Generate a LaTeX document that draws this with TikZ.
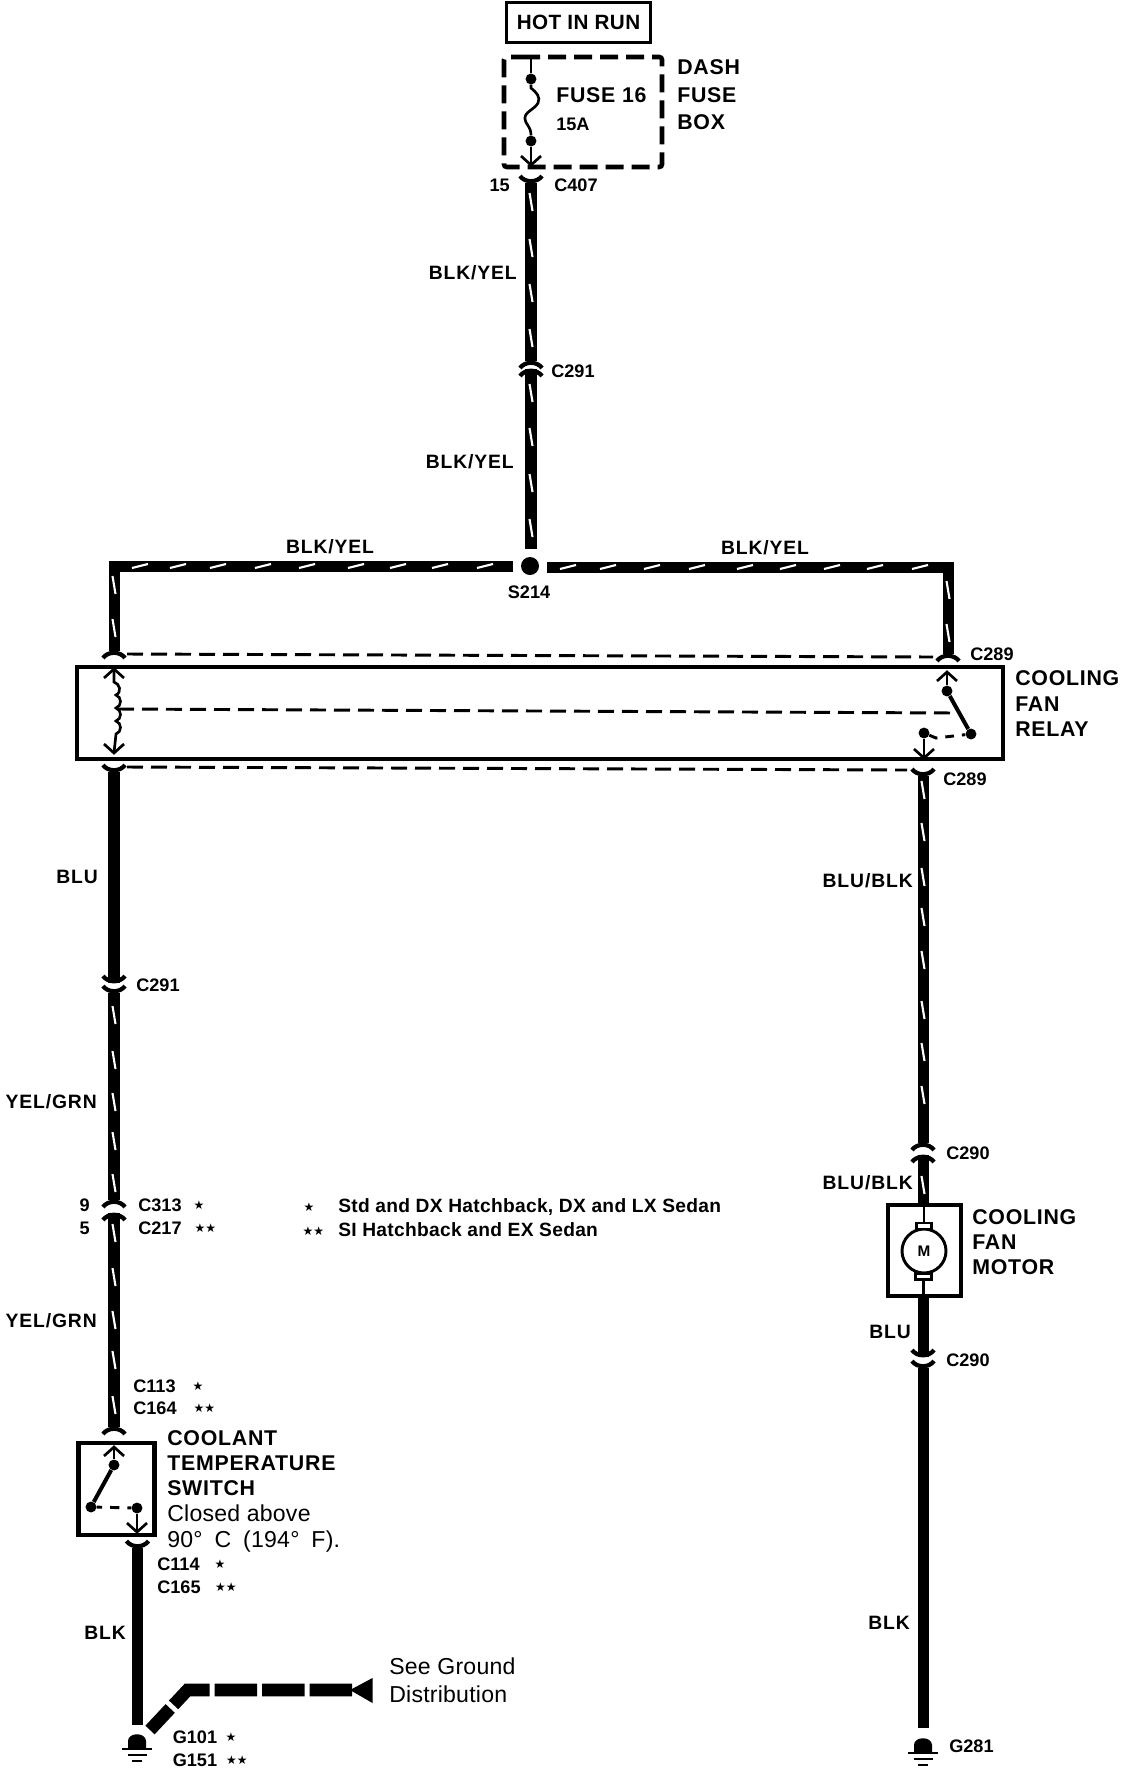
\documentclass[tikz,border=0pt]{standalone}
\usepackage{fontspec}
\setmainfont{Liberation Sans}
\newfontfamily\starfont{DejaVu Sans}
\tikzset{
  wire/.style={line width=9pt},
  wirethin/.style={line width=8.25pt},
  stripe/.style={white,line width=1.6pt},
  ctrl/.style={line width=2.2pt,dash pattern=on 12pt off 6pt},
  thinline/.style={line width=2pt},
  boxline/.style={draw,line width=3.2pt,inner sep=0pt},
  plug/.style={line width=3.2pt},
  dot/.style={circle,fill=black,inner sep=0pt,minimum size=8.2pt},
  lbl/.style={anchor=west,inner sep=0pt,text depth=0pt},
  big/.style={lbl,text height={.72em+5pt},font=\fontsize{16}{18}\selectfont\bfseries\addfontfeature{LetterSpace=3.5}},
  wirelbl/.style={lbl,text height={.72em+3pt},font=\fontsize{14.5}{16}\selectfont\bfseries\addfontfeature{LetterSpace=4.5}},
  conn/.style={lbl,text height={.72em+3pt},font=\fontsize{13.6}{15}\selectfont\bfseries},
  note/.style={lbl,text height={.72em+1.5pt},font=\fontsize{14.4}{16}\selectfont\bfseries\addfontfeature{LetterSpace=1.5}},
  plain/.style={lbl,text height={.72em+5pt},font=\fontsize{17.3}{19}\selectfont\addfontfeature{LetterSpace=1}},
  stars/.style={inner sep=0pt,font=\starfont\fontsize{9}{10}\selectfont},
  capup/.pic={\draw[plug] (-11,7) .. controls (-6,0) and (6,0) .. (11,7);},
  capdown/.pic={\draw[plug] (-11,-7) .. controls (-6,0) and (6,0) .. (11,-7);},
  barbup/.pic={\draw[thinline] (-10,9) -- (0,0) -- (10,9);},
  barbdown/.pic={\draw[thinline] (-10,-9) -- (0,0) -- (10,-9);},
  groundsym/.pic={
    \fill (-9,0) -- (-9,-8) .. controls (-9,-17) and (9,-17) .. (9,-8) -- (9,0) -- cycle;
    \draw[thinline] (-15,0) -- (15,0);
    \draw[thinline] (-9.5,6) -- (9.5,6);
    \draw[thinline] (-5,12) -- (5,12);},
}
\begin{document}
\begin{tikzpicture}[x=0.75pt,y=0.75pt,yscale=-1,xscale=1]
  \useasboundingbox (0,0) rectangle (1136,1768);

  % Boxes
  \draw (578.5,22.5) node (hotinrun) [draw,line width=2.6pt,inner sep=0pt,minimum width=108pt,minimum height=30pt,font=\fontsize{15.5}{18}\selectfont\bfseries\addfontfeature{LetterSpace=2}] {HOT IN RUN};
  \draw (583,112) node (fusebox) [inner sep=0pt,outer sep=0pt,minimum width=118.5pt,minimum height=82.5pt] {};
  \draw[line width=3.4pt,rounded corners=2pt,dash pattern=on 13.5pt off 6pt] (522,57) -- (fusebox.north east) -- (fusebox.south east) -- (fusebox.south west) -- (fusebox.north west) -- (522,57);
  \draw (540,713) node (relay) [boxline,minimum width=694pt,minimum height=69pt] {};
  \draw (924.5,1250.5) node (motorbox) [boxline,minimum width=54.5pt,minimum height=68pt] {};
  \draw (116.5,1489) node (tempswitch) [boxline,minimum width=57pt,minimum height=69pt] {};

  % Wire ends
  \coordinate (c407) at (531,183);
  \coordinate (c291u) at (531,361);
  \coordinate (c291d) at (531,369);
  \coordinate (s214t) at (531,549);
  \coordinate (s214l) at (513,566);
  \coordinate (s214r) at (547,567);
  \coordinate (c289a) at (114,651);
  \coordinate (c289b) at (948,654);
  \coordinate (c289c) at (114,772);
  \coordinate (c289d) at (923,776);
  \coordinate (c201u) at (114,983);
  \coordinate (c201d) at (114,993);
  \coordinate (c313) at (114,1200);
  \coordinate (c217) at (114,1213);
  \coordinate (c113) at (114,1427);
  \coordinate (c114) at (137.5,1548);
  \coordinate (g101) at (137.5,1725);
  \coordinate (c290a) at (923,1143);
  \coordinate (c290b) at (923,1155);
  \coordinate (c290c) at (923,1357);
  \coordinate (c290d) at (923,1368);
  \coordinate (g281) at (923,1728);

  % Splice
  \draw (530,566) node (s214) [circle,fill=black,inner sep=0pt,minimum size=13.5pt] {};

  % Wires
  \draw[wire] (c407) -- (c291u);
  \draw[wire] (c291d) -- (s214t);
  \draw[wirethin] (s214l) -| (c289a);
  \draw[wirethin] (s214r) -| (c289b);
  \draw[wire] (c289c) -- (c201u);
  \draw[wire] (c201d) -- (c313);
  \draw[wire] (c217) -- (c113);
  \draw[wirethin] (c114) -- (g101);
  \draw[wirethin] (c289d) -- (c290a);
  \draw[wirethin] (c290b) -- (motorbox.north -| c290b);
  \draw[wirethin] (motorbox.south -| c290c) -- (c290c);
  \draw[wirethin] (c290d) -- (g281);

  % Connector ends
  \foreach \c in {c291u,c291d,c289a,c289b,c313,c217,c113,c290a,c290b}
    \draw (\c) pic[transform shape] {capup};
  \foreach \c in {c407,c289c,c289d,c201u,c201d,c114,c290c,c290d}
    \draw (\c) pic[transform shape] {capdown};

  % Tracer marks
  \foreach \y in {202,248,293,338,393,437,483,528}
    \draw[stripe] (529.5,\y-9) -- (532.5,\y+9);
  \foreach \y in {585,628}
    \draw[stripe] (112.5,\y-9) -- (115.5,\y+9);
  \foreach \y in {590,633}
    \draw[stripe] (946.5,\y-9) -- (949.5,\y+9);
  \foreach \y in {1015,1060,1102,1141,1183,1233,1277,1320,1360,1405}
    \draw[stripe] (112.5,\y-9) -- (115.5,\y+9);
  \foreach \y in {790,832,877,917,960,1010,1052,1095,1185}
    \draw[stripe] (921.5,\y-9) -- (924.5,\y+9);
  \foreach \x in {140,178,218,263,307,356,398,440,485}
    \draw[stripe] (\x-8,568) -- (\x+8,564);
  \foreach \x in {568,608,652,697,745,788,832,875,920}
    \draw[stripe] (\x-8,569) -- (\x+8,565);

  % Fuse
  \coordinate (fusetop) at (531,57);
  \coordinate (fusetip) at (531,165);
  \draw (531,79) node (fusea) [dot] {};
  \draw (531,141) node (fuseb) [dot] {};
  \draw[thinline] (fusetop) -- (fusea);
  \draw[thinline] (fusea) -- (531,88) .. controls (536,92) and (541,97) .. (538,103) .. controls (534,110) and (524,112) .. (525,119) .. controls (525,124) and (531,126) .. (fuseb);
  \draw[thinline] (fuseb) -- (fusetip);
  \draw (fusetip) pic[transform shape] {barbdown};

  % Dashed control lines
  \draw[ctrl] (127,654) -- (933,657);
  \draw[ctrl] (127,767) -- (907,770);
  \draw[ctrl] (118,709) -- (957,713);

  % Relay coil
  \coordinate (coilt) at (114,669);
  \coordinate (coilb) at (114,753);
  \draw (coilt) pic[transform shape] {barbup};
  \draw (coilb) pic[transform shape] {barbdown};
  \draw[thinline] (coilt) -- (114,682) .. controls (120,684) and (122,692) .. (116,695)
    .. controls (122,697) and (122,706) .. (116,708) .. controls (122,710) and (122,719) .. (116,721)
    .. controls (122,723) and (122,732) .. (116,734) -- (coilb);

  % Relay switch
  \coordinate (relayt) at (947,672);
  \coordinate (relayb) at (924,758);
  \draw (947,691) node (relaya) [dot] {};
  \draw (971,734) node (relayc) [dot] {};
  \draw (924,733) node (relayd) [dot] {};
  \draw (relayt) pic[transform shape] {barbup};
  \draw (relayb) pic[transform shape] {barbdown};
  \draw[thinline] (relayt) -- (relaya);
  \draw[line width=3pt] (relaya) -- (relayc);
  \draw[thinline] (relayd) -- (relayb);
  \draw[ctrl,dash pattern=on 6.5pt off 6pt] (relayd) -- (936,738) -- (relayc);

  % Temperature switch
  \coordinate (swt) at (114,1447);
  \coordinate (swb) at (137,1532);
  \draw (114,1465) node (swa) [dot] {};
  \draw (91,1507) node (swc) [dot] {};
  \draw (137,1508) node (swd) [dot] {};
  \draw (swt) pic[transform shape] {barbup};
  \draw (swb) pic[transform shape] {barbdown};
  \draw[thinline] (swt) -- (swa);
  \draw[line width=3pt] (swa) -- (swc);
  \draw[thinline] (swd) -- (swb);
  \draw[ctrl,dash pattern=on 7pt off 6pt,dash phase=3pt] (swc) -- (swd);

  % Motor
  \draw[line width=2.2pt] (924,1251) circle (22);
  \draw (924,1226) node (brusht) [draw,fill=white,line width=2.2pt,inner sep=0pt,minimum width=11pt,minimum height=4.5pt] {};
  \draw (923.5,1276.5) node (brushb) [draw,fill=white,line width=2.2pt,inner sep=0pt,minimum width=12.5pt,minimum height=5pt] {};
  \draw (924,1251) node (motor) [inner sep=0pt,font=\fontsize{11.5}{12}\selectfont\bfseries] {M};
  \draw[thinline] (motorbox.north -| brusht) -- (brusht);
  \draw[thinline] (brushb) -- (motorbox.south -| brushb);

  % Grounds
  \coordinate (gndl) at (137,1749);
  \coordinate (gndr) at (923,1753);
  \draw (gndl) pic[transform shape] {groundsym};
  \draw (gndr) pic[transform shape] {groundsym};

  % Ground reference
  \coordinate (gdiaga) at (150,1730);
  \coordinate (gdiagb) at (187.5,1690);
  \coordinate (gdiagc) at (353,1690);
  \draw[line width=9.5pt,dash pattern=on 31.9pt off 3.7pt,dash phase=9.75pt] (gdiaga) -- (gdiagb) -- (gdiagc);
  \fill (350,1690) -- (372.5,1678) -- (372.5,1703) -- cycle;

  % Text Node
  \draw (677,66) node (dash) [big] {DASH};
  \draw (677,94) node (fuse) [big] {FUSE};
  \draw (677,121) node (box) [big] {BOX};
  \draw (556,94) node (fuse16) [big] {FUSE 16};
  \draw (556,124) node (amps) [conn] {15A};
  \draw (510,185) node (pin15) [conn,anchor=east] {15};
  \draw (554,185) node (lc407) [conn] {C407};
  \draw (551,371) node (lc291a) [conn] {C291};
  \draw (517,273) node (wa) [wirelbl,anchor=east] {BLK/YEL};
  \draw (514,462) node (wb) [wirelbl,anchor=east] {BLK/YEL};
  \draw (330,547) node (wc) [wirelbl,anchor=center] {BLK/YEL};
  \draw (765,548) node (wd) [wirelbl,anchor=center] {BLK/YEL};
  \draw (529,592) node (ls214) [conn,anchor=center] {S214};
  \draw (970,654) node (lc289a) [conn] {C289};
  \draw (943,779) node (lc289b) [conn] {C289};
  \draw (1015,677) node (cool) [big] {COOLING};
  \draw (1015,703) node (fan) [big] {FAN};
  \draw (1015,728) node (rel) [big] {RELAY};
  \draw (98,877) node (we) [wirelbl,anchor=east] {BLU};
  \draw (136,985) node (lc291b) [conn] {C291};
  \draw (97,1102) node (wf) [wirelbl,anchor=east] {YEL/GRN};
  \draw (913,881) node (wg) [wirelbl,anchor=east] {BLU/BLK};
  \draw (946,1153) node (lc290a) [conn] {C290};
  \draw (90,1205) node (pin9) [conn,anchor=east] {9};
  \draw (90,1228) node (pin5) [conn,anchor=east] {5};
  \draw (138,1205) node (lc313) [conn] {C313};
  \draw (199,1205) node (sa) [stars] {★};
  \draw (138,1228) node (lc217) [conn] {C217};
  \draw (205.5,1228) node (sb) [stars] {★★};
  \draw (309,1207) node (sc) [stars] {★};
  \draw (313.5,1231) node (sd) [stars] {★★};
  \draw (338,1207) node (notea) [note] {Std and DX Hatchback, DX and LX Sedan};
  \draw (338,1231) node (noteb) [note] {SI Hatchback and EX Sedan};
  \draw (97,1321) node (wh) [wirelbl,anchor=east] {YEL/GRN};
  \draw (133,1386) node (lc113) [conn] {C113};
  \draw (198,1386) node (se) [stars] {★};
  \draw (133,1408) node (lc164) [conn] {C164};
  \draw (204.5,1408) node (sf) [stars] {★★};
  \draw (167,1437) node (coolant) [big] {COOLANT};
  \draw (167,1462) node (temp) [big] {TEMPERATURE};
  \draw (167,1487) node (switch) [big] {SWITCH};
  \draw (167,1513) node (closed) [plain] {Closed above};
  \draw (167,1539) node (degrees) [plain] {90°\hspace{4pt} C\hspace{4pt} (194°\hspace{4pt} F).};
  \draw (157,1564) node (lc114) [conn] {C114};
  \draw (220,1564) node (sg) [stars] {★};
  \draw (157,1587) node (lc165) [conn] {C165};
  \draw (226,1587) node (sh) [stars] {★★};
  \draw (126,1633) node (wi) [wirelbl,anchor=east] {BLK};
  \draw (389,1666) node (seeg) [plain] {See Ground};
  \draw (389,1694) node (dist) [plain] {Distribution};
  \draw (172.5,1737) node (lg101) [conn] {G101};
  \draw (231,1737) node (si) [stars] {★};
  \draw (172.5,1760) node (lg151) [conn] {G151};
  \draw (237,1760) node (sj) [stars] {★★};
  \draw (913,1183) node (wj) [wirelbl,anchor=east] {BLU/BLK};
  \draw (972,1216) node (mcool) [big] {COOLING};
  \draw (972,1241) node (mfan) [big] {FAN};
  \draw (972,1266) node (mmot) [big] {MOTOR};
  \draw (911,1332) node (wk) [wirelbl,anchor=east] {BLU};
  \draw (946,1360) node (lc290b) [conn] {C290};
  \draw (910,1623) node (wl) [wirelbl,anchor=east] {BLK};
  \draw (949,1746) node (lg281) [conn] {G281};
\end{tikzpicture}
\end{document}
